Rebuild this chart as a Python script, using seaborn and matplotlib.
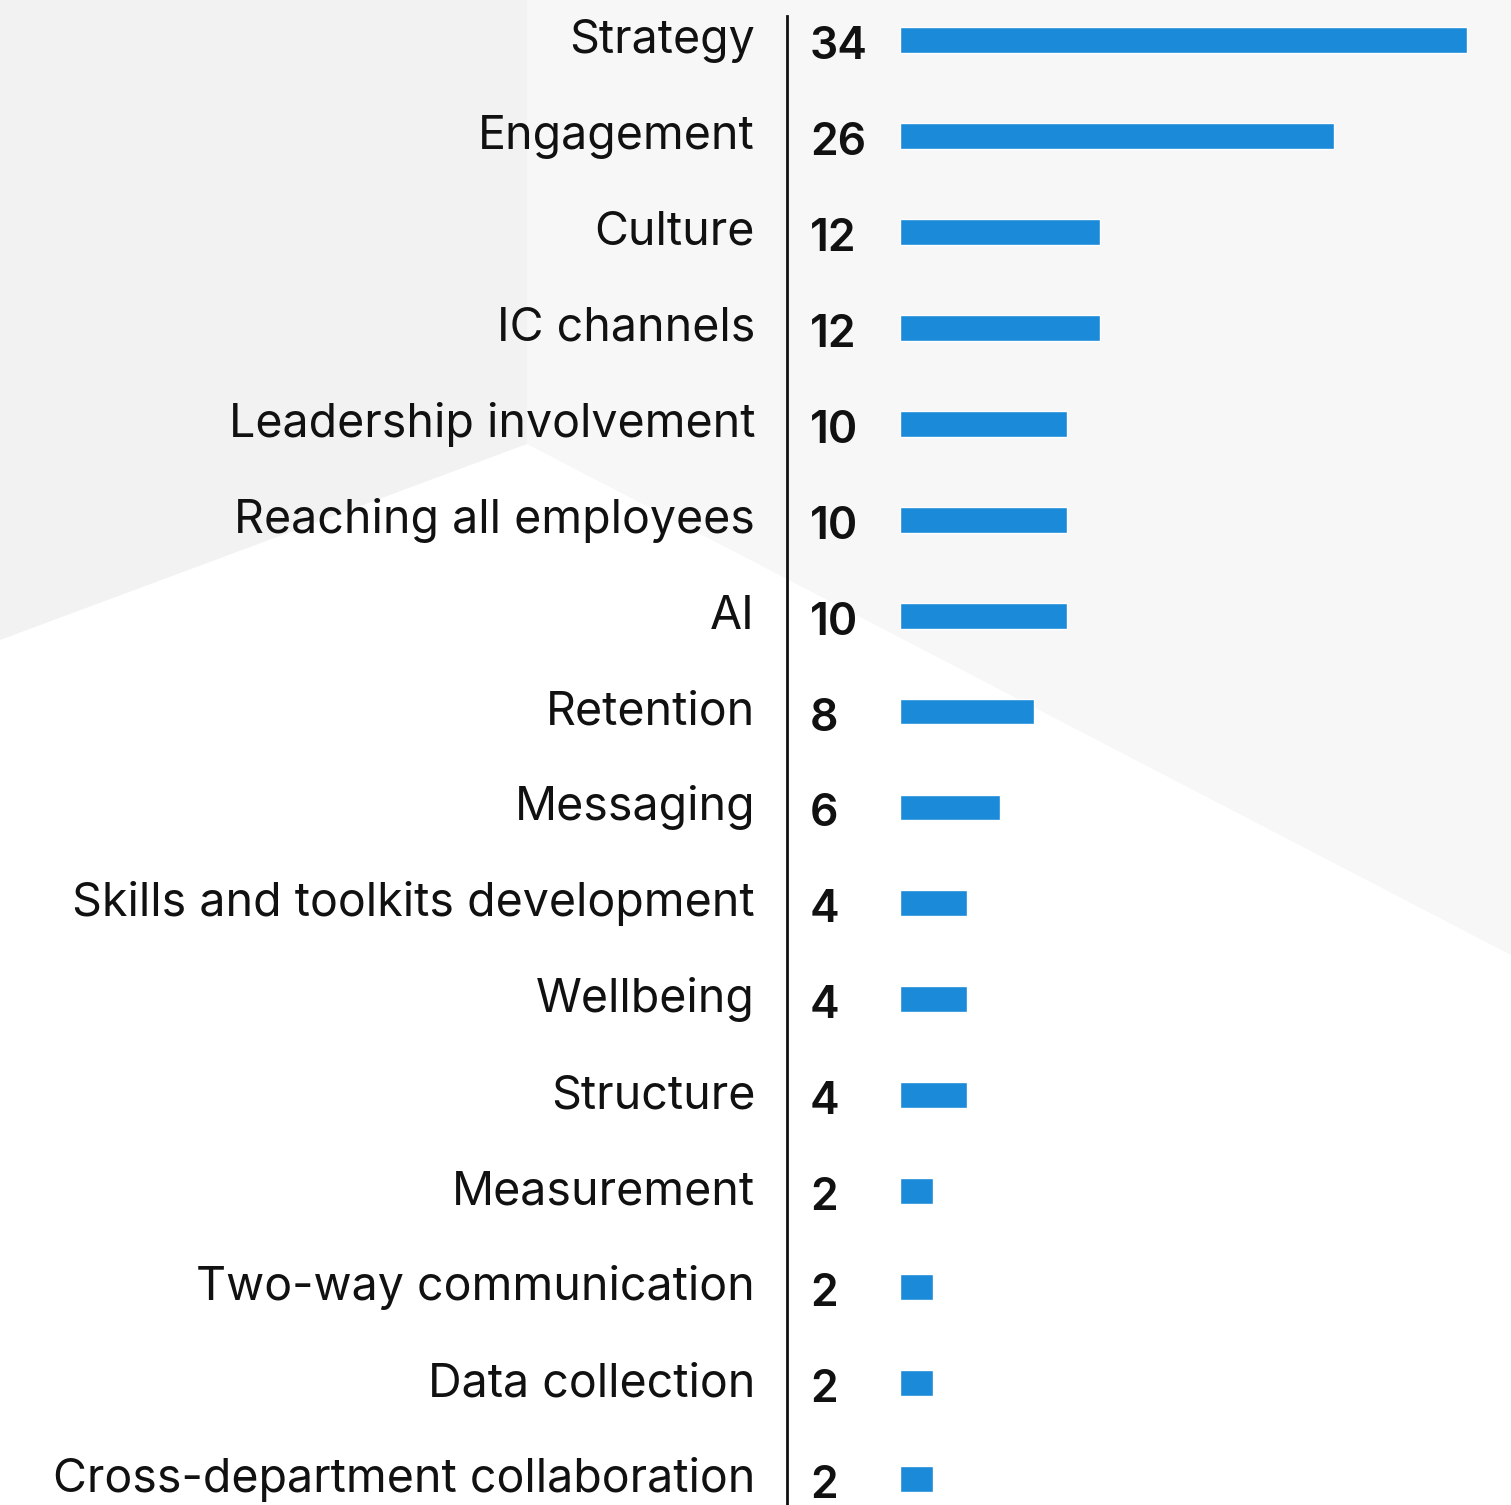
import matplotlib
matplotlib.use("Agg")
import matplotlib.pyplot as plt
from matplotlib.patches import Polygon
from matplotlib.transforms import blended_transform_factory
import seaborn as sns
import pandas as pd

categories = [
    "Strategy", "Engagement", "Culture", "IC channels",
    "Leadership involvement", "Reaching all employees", "AI",
    "Retention", "Messaging", "Skills and toolkits development",
    "Wellbeing", "Structure", "Measurement", "Two-way communication",
    "Data collection", "Cross-department collaboration",
]
values = [34, 26, 12, 12, 10, 10, 10, 8, 6, 4, 4, 4, 2, 2, 2, 2]

bar_color = "#1a8ad9"
font = ["Inter", "DejaVu Sans"]

sns.set_theme(style="white")
plt.rcParams["font.family"] = font

W, H = 1511, 1505
fig = plt.figure(figsize=(W / 100, H / 100), dpi=100)
fig.patch.set_facecolor("white")

# decorative background panels
fig.patches.append(Polygon([(0, 1), (527 / W, 1), (527 / W, 1 - 444 / H), (0, 1 - 640 / H)],
                           closed=True, transform=fig.transFigure, facecolor="#f2f2f2",
                           edgecolor="none", zorder=-10))
fig.patches.append(Polygon([(527 / W, 1), (1, 1), (1, 1 - 955 / H), (527 / W, 1 - 444 / H)],
                           closed=True, transform=fig.transFigure, facecolor="#f7f7f7",
                           edgecolor="none", zorder=-10))

ax = fig.add_axes([787 / W, 0, (W - 787) / W, (H - 16) / H])
ax.patch.set_alpha(0)

df = pd.DataFrame({"topic": categories, "count": values})
sns.barplot(data=df, y="topic", x="count", orient="h", color=bar_color,
            width=0.27, saturation=1, ax=ax)

px_per_unit = 16.69
ax_w = W - 787
x0 = -(900 - 787) / px_per_unit
ax.set_xlim(x0, x0 + ax_w / px_per_unit)
row_px = (1479 - 40) / 15
ax.set_ylim(15 + 26 / row_px, -24 / row_px)

for s in ["top", "right", "bottom"]:
    ax.spines[s].set_visible(False)
ax.spines["left"].set_color("#111111")
ax.spines["left"].set_linewidth(2)
ax.set_xticks([])
ax.set_yticks([])
ax.set_xlabel("")
ax.set_ylabel("")

trans = blended_transform_factory(ax.transAxes, ax.transData)
for i, (name, v) in enumerate(zip(categories, values)):
    ax.text(-(787 - 755) / ax_w, i + 13 / row_px, name, transform=trans,
            ha="right", va="baseline", fontsize=33.5, color="#111111", clip_on=False)
    ax.text((810 - 787) / ax_w, i + 19 / row_px, str(v), transform=trans,
            ha="left", va="baseline", fontsize=32, fontweight="semibold", color="#111111")

fig.savefig("out.png", dpi=100)
